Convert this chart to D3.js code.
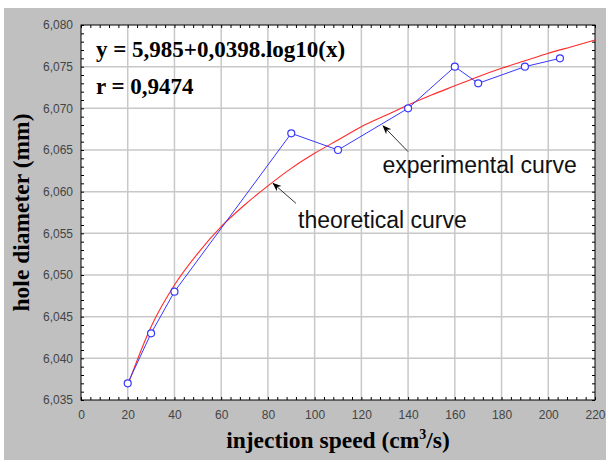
<meta charset="utf-8">
<html>
<head>
<style>
  body { margin: 0; background: #fff; }
  .tick text { font-family: "Liberation Sans", Arial, sans-serif; font-size: 12px; fill: #444; }
</style>
</head>
<body>
<script src="https://d3js.org/d3.v7.min.js"></script>
<div id="chart"></div>
<script>

// experimental points (speed, diameter)
var speeds = [20, 30, 40, 90, 110, 140, 160, 170, 190, 205];
var diameters = [6.037, 6.043, 6.048, 6.067, 6.065, 6.070, 6.075, 6.073, 6.075, 6.076];

// theoretical curve
var theoX = [20, 30, 40, 50, 60, 70, 80, 90, 100, 110, 120, 130, 140, 150, 160, 170, 180, 190, 200, 210, 220];
var theoY = [6.0368, 6.0438, 6.0488, 6.0526, 6.0558, 6.0584, 6.0607, 6.0628, 6.0646, 6.0662, 6.0678,
             6.0691, 6.0704, 6.0716, 6.0727, 6.0738, 6.0748, 6.0757, 6.0766, 6.0774, 6.0782];

var xTicks = [0, 20, 40, 60, 80, 100, 120, 140, 160, 180, 200, 220];
var yTicks = [6.035, 6.040, 6.045, 6.050, 6.055, 6.060, 6.065, 6.070, 6.075, 6.080];

var W = 606, H = 460;
var margin = {top: 25, right: 11, bottom: 60, left: 81};
var width = W - margin.left - margin.right,
    height = H - margin.top - margin.bottom;

var svg = d3.select("#chart").append("svg")
    .attr("width", W).attr("height", H);

// grey panel
svg.append("rect").attr("x", 4).attr("y", 8).attr("width", W - 4).attr("height", H - 8)
  .attr("fill", "#c0c0c0");

var g = svg.append("g").attr("transform", "translate(" + margin.left + "," + margin.top + ")");

var x = d3.scaleLinear().domain([0, 220]).range([0, width]);
var y = d3.scaleLinear().domain([6.035, 6.080]).range([height, 0]);

g.append("rect").attr("width", width).attr("height", height).attr("fill", "#fff");

// grid
g.selectAll(".vg").data(xTicks.slice(1, -1)).enter().append("line")
  .attr("x1", d => x(d)).attr("x2", d => x(d)).attr("y1", 0).attr("y2", height)
  .attr("stroke", "#c8c8c8").attr("stroke-width", 1.5);
g.selectAll(".hg").data(yTicks.slice(1, -1)).enter().append("line")
  .attr("y1", d => y(d)).attr("y2", d => y(d)).attr("x1", 0).attr("x2", width)
  .attr("stroke", "#c8c8c8").attr("stroke-width", 1.5);

var fmt = function(d) { return d3.format(".3f")(d).replace(".", ","); };

// minor ticks on all four sides
var xMinor = d3.range(0, 221, 4), yMinor = d3.range(0, 46).map(i => 6.035 + i * 0.001);

var xb = g.append("g").attr("transform", "translate(0," + height + ")")
  .call(d3.axisBottom(x).tickValues(xMinor).tickSize(-3).tickFormat(""));
var xt = g.append("g")
  .call(d3.axisTop(x).tickValues(xMinor).tickSize(-3).tickFormat(""));
var yl = g.append("g")
  .call(d3.axisLeft(y).tickValues(yMinor).tickSize(-3).tickFormat(""));
var yr = g.append("g").attr("transform", "translate(" + width + ",0)")
  .call(d3.axisRight(y).tickValues(yMinor).tickSize(-3).tickFormat(""));
[xb, xt, yl, yr].forEach(a => a.select(".domain").remove());

// labelled axes
var xa = g.append("g").attr("transform", "translate(0," + height + ")")
  .call(d3.axisBottom(x).tickValues(xTicks).tickSize(0).tickPadding(10));
var ya = g.append("g")
  .call(d3.axisLeft(y).tickValues(yTicks).tickSize(0).tickPadding(8).tickFormat(fmt));
[xa, ya].forEach(a => a.select(".domain").remove());

g.append("rect").attr("width", width).attr("height", height)
  .attr("fill", "none").attr("stroke", "#000").attr("stroke-width", 1);

// theoretical curve
var theo = theoX.map((d, i) => [d, theoY[i]]);
g.append("path").datum(theo)
  .attr("d", d3.line().x(d => x(d[0])).y(d => y(d[1])).curve(d3.curveMonotoneX))
  .attr("fill", "none").attr("stroke", "#ff2a2a").attr("stroke-width", 1.1);

// experimental curve
var expData = speeds.map((d, i) => [d, diameters[i]]);
g.append("path").datum(expData)
  .attr("d", d3.line().x(d => x(d[0])).y(d => y(d[1])))
  .attr("fill", "none").attr("stroke", "#3838ff").attr("stroke-width", 1);
g.selectAll(".pt").data(expData).enter().append("circle")
  .attr("cx", d => x(d[0])).attr("cy", d => y(d[1])).attr("r", 3.5)
  .attr("fill", "#fff").attr("stroke", "#3838ff").attr("stroke-width", 1.2);

// equation
var serif = "Liberation Serif, Times New Roman, serif";
g.append("text").attr("x", x(6.4)).attr("y", y(6.0762))
  .attr("font-family", serif).attr("font-weight", "bold")
  .attr("font-size", 23).text("y = 5,985+0,0398.log10(x)");
g.append("text").attr("x", x(6.4)).attr("y", y(6.0717))
  .attr("font-family", serif).attr("font-weight", "bold")
  .attr("font-size", 23).text("r = 0,9474");

// annotations
svg.append("defs").append("marker").attr("id", "arr")
  .attr("viewBox", "0 0 10 10").attr("refX", 9).attr("refY", 5)
  .attr("markerWidth", 9).attr("markerHeight", 9).attr("orient", "auto")
  .append("path").attr("d", "M0,1 L10,5 L0,9 L3,5 Z").attr("fill", "#000");

var notes = [
  {label: "experimental curve", tx: 129, ty: 6.0622, ax0: 140, ay0: 6.0648, ax1: 129.3, ay1: 6.0679},
  {label: "theoretical curve", tx: 92.9, ty: 6.0556, ax0: 92, ay0: 6.0586, ax1: 82.2, ay1: 6.0610}
];
notes.forEach(function(n) {
  g.append("line").attr("x1", x(n.ax0)).attr("y1", y(n.ay0)).attr("x2", x(n.ax1)).attr("y2", y(n.ay1))
    .attr("stroke", "#333").attr("stroke-width", 1).attr("marker-end", "url(#arr)");
  g.append("text").attr("x", x(n.tx)).attr("y", y(n.ty))
    .attr("font-family", "Liberation Sans, Arial, sans-serif").attr("font-size", 23)
    .attr("fill", "#111").text(n.label);
});

// axis titles
var xt2 = svg.append("text").attr("x", margin.left + width / 2).attr("y", 448)
  .attr("text-anchor", "middle").attr("font-family", serif)
  .attr("font-weight", "bold").attr("font-size", 23.5);
xt2.append("tspan").text("injection speed (cm");
xt2.append("tspan").attr("font-size", 14).attr("dy", -9).text("3");
xt2.append("tspan").attr("dy", 9).text("/s)");

svg.append("text").attr("transform", "translate(29," + (margin.top + height / 2) + ") rotate(-90)")
  .attr("text-anchor", "middle").attr("font-family", serif)
  .attr("font-weight", "bold").attr("font-size", 23.5).text("hole diameter (mm)");

</script>
</body>
</html>
